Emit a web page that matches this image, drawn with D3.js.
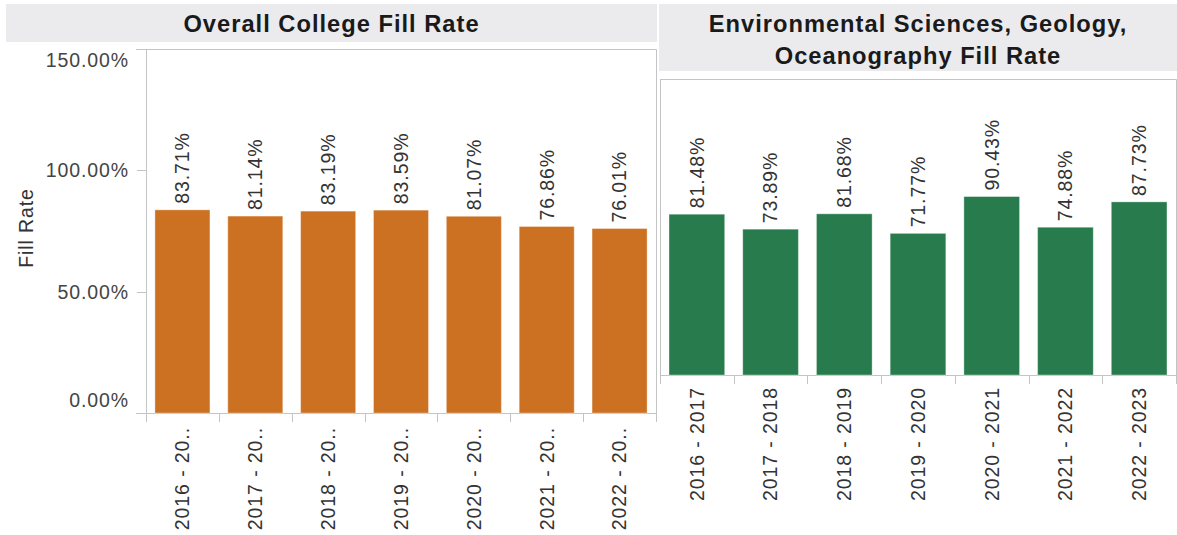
<!DOCTYPE html>
<html>
<head>
<meta charset="utf-8">
<script src="https://cdn.jsdelivr.net/npm/d3@7"></script>
<style>
body { margin: 0; background: #fff; }
text { font-family: "Liberation Sans", Arial, sans-serif; }
</style>
</head>
<body>
<script>
// Data.
const years = ['2016 - 2017', '2017 - 2018', '2018 - 2019', '2019 - 2020',
    '2020 - 2021', '2021 - 2022', '2022 - 2023'];
const collegeRates = [83.71, 81.14, 83.19, 83.59, 81.07, 76.86, 76.01];
const envRates = [81.48, 73.89, 81.68, 71.77, 90.43, 74.88, 87.73];
const yTicks = [0, 50, 100, 150];
const collegeTitle = ['Overall College Fill Rate'];
const envTitle = ['Environmental Sciences, Geology,', 'Oceanography Fill Rate'];
const yAxisTitle = 'Fill Rate';

const WIDTH = 1177;
const HEIGHT = 535;
const FONT_SIZE = 19.5;
const LETTER_SPACING = 0.9;
const TITLE_SIZE = 23.7;
const AXIS_COLOR = '#c4c4c4';
const HEADER_COLOR = '#ebebee';
const TICK_LEN = 9;

var svg = d3.select('body')
    .append('svg')
    .attr('width', WIDTH)
    .attr('height', HEIGHT);

var fmt = d => d3.format('.2f')(d) + '%';

var panels = [
    { title: collegeTitle, values: collegeRates, color: '#cc7021',
      left: 146, right: 656, top: 49, bottom: 413,
      head: { x0: 6, x1: 657, y0: 4, y1: 42 }, yAxis: true, labelTop: 427 },
    { title: envTitle, values: envRates, color: '#277b4c',
      left: 660, right: 1176, top: 79, bottom: 375,
      head: { x0: 659, x1: 1177, y0: 4, y1: 71 }, yAxis: false, labelTop: 387 }
];

panels.forEach(function(p) {
    var g = svg.append('g');
    var x = d3.scaleBand()
        .domain(years)
        .range([p.left, p.right])
        .paddingInner(0.245)
        .paddingOuter(0.1225);
    var y = d3.scaleLinear()
        .domain([0, 150])
        .range([p.bottom, p.top]);

    // header band + title
    g.append('rect')
        .attr('x', p.head.x0).attr('y', p.head.y0)
        .attr('width', p.head.x1 - p.head.x0)
        .attr('height', p.head.y1 - p.head.y0)
        .attr('fill', HEADER_COLOR);
    g.selectAll('.title')
        .data(p.title)
        .enter()
        .append('text')
        .attr('class', 'title')
        .attr('x', (p.head.x0 + p.head.x1) / 2)
        .attr('y', (d, i) => 32 + i * 32)
        .attr('text-anchor', 'middle')
        .style('font-size', TITLE_SIZE + 'px')
        .style('font-weight', 'bold')
        .style('letter-spacing', '1px')
        .attr('fill', '#1a1a1a')
        .text(d => d);

    // pane frame
    var x0 = p.yAxis ? p.left - 10 : p.left;
    g.append('path')
        .attr('d', `M${x0},${p.top + 0.5}H${p.right + 0.5}V${p.bottom}`)
        .attr('fill', 'none')
        .attr('stroke', AXIS_COLOR);
    g.append('line')
        .attr('x1', p.left + 0.5).attr('x2', p.left + 0.5)
        .attr('y1', p.top).attr('y2', p.bottom + TICK_LEN)
        .attr('stroke', AXIS_COLOR);
    g.append('line')
        .attr('x1', x0).attr('x2', p.right + 0.5)
        .attr('y1', p.bottom + 0.5).attr('y2', p.bottom + 0.5)
        .attr('stroke', AXIS_COLOR);

    // x ticks on band boundaries
    var bounds = years.map(d => x(d) - x.step() * x.paddingInner() / 2).concat([p.right]);
    g.selectAll('.xtick')
        .data(bounds)
        .enter()
        .append('line')
        .attr('x1', d => Math.round(d) + 0.5).attr('x2', d => Math.round(d) + 0.5)
        .attr('y1', p.bottom).attr('y2', p.bottom + TICK_LEN)
        .attr('stroke', AXIS_COLOR);

    // bars
    var rows = p.values.map((v, i) => ({ year: years[i], value: v }));
    g.selectAll('.bar')
        .data(rows)
        .enter()
        .append('rect')
        .attr('class', 'bar')
        .attr('x', d => x(d.year))
        .attr('y', d => y(d.value))
        .attr('width', x.bandwidth())
        .attr('height', d => y(0) - y(d.value))
        .attr('fill', p.color)
        .attr('stroke', '#ffffff')
        .attr('stroke-opacity', 0.35)
        .attr('stroke-width', 1);

    // value labels above bars
    g.selectAll('.val')
        .data(rows)
        .enter()
        .append('text')
        .attr('transform', d => `translate(${x(d.year) + x.bandwidth() / 2},${y(d.value) - 6}) rotate(-90)`)
        .attr('dy', '0.35em')
        .style('font-size', FONT_SIZE + 'px')
        .style('letter-spacing', LETTER_SPACING + 'px')
        .attr('fill', '#333')
        .text(d => fmt(d.value));

    // category labels, cut with '..' when they don't fit
    var avail = HEIGHT - p.labelTop - 2;
    g.selectAll('.cat')
        .data(years)
        .enter()
        .append('text')
        .attr('transform', d => `translate(${x(d) + x.bandwidth() / 2},${p.labelTop}) rotate(-90)`)
        .attr('text-anchor', 'end')
        .attr('dy', '0.35em')
        .style('font-size', FONT_SIZE + 'px')
        .style('letter-spacing', LETTER_SPACING + 'px')
        .attr('fill', '#333')
        .text(d => d)
        .each(function(d) {
            var el = d3.select(this);
            var s = d;
            while (this.getComputedTextLength() > avail && s.length > 1) {
                s = s.slice(0, -1);
                el.text(s.trimEnd() + '..');
            }
        });

    if (p.yAxis) {
        g.selectAll('.ytick')
            .data(yTicks)
            .enter()
            .append('line')
            .attr('x1', p.left - TICK_LEN).attr('x2', p.left)
            .attr('y1', d => Math.round(y(d)) + 0.5).attr('y2', d => Math.round(y(d)) + 0.5)
            .attr('stroke', AXIS_COLOR);
        // end labels are pulled inside the pane, like the original
        g.selectAll('.ylab')
            .data(yTicks)
            .enter()
            .append('text')
            .attr('x', p.left - 17)
            .attr('y', function(d) {
                if (d === yTicks[yTicks.length - 1]) return y(d) + 18;
                if (d === yTicks[0]) return y(d) - 6;
                return y(d) + 7;
            })
            .attr('text-anchor', 'end')
            .style('font-size', FONT_SIZE + 'px')
            .style('letter-spacing', LETTER_SPACING + 'px')
            .attr('fill', '#444')
            .text(d => d3.format('.2f')(d) + '%');
        g.append('text')
            .attr('transform', `translate(26,${(p.top + p.bottom) / 2 - 3}) rotate(-90)`)
            .attr('text-anchor', 'middle')
            .attr('dy', '0.35em')
            .style('font-size', FONT_SIZE + 'px')
            .style('letter-spacing', LETTER_SPACING + 'px')
            .attr('fill', '#333')
            .text(yAxisTitle);
    }
});
</script>
</body>
</html>
